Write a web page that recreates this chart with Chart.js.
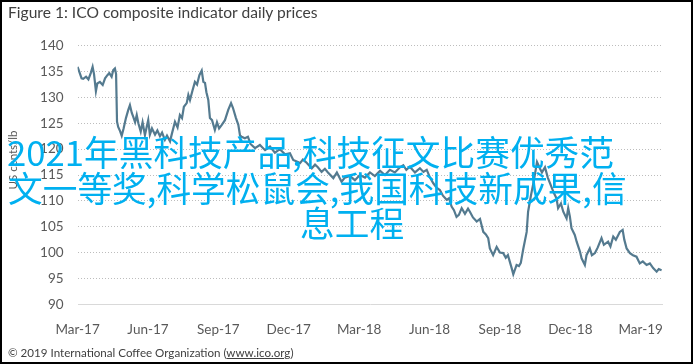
<!DOCTYPE html>
<html>
<head>
<meta charset="utf-8">
<script src="https://cdn.jsdelivr.net/npm/chart.js@4.4.0/dist/chart.umd.min.js"></script>
<style>
html, body { margin: 0; padding: 0; background: #fff; }
#wrap { position: relative; width: 695px; height: 364px; overflow: hidden; }
#chart { position: absolute; left: 0; top: 0; }
#frame { position: absolute; left: 0; top: 0; width: 693px; height: 364px; border: 2px solid #000; box-sizing: border-box; pointer-events: none; }
.title { position: absolute; left: 8px; top: 3px; font-family: Lato, "Open Sans", sans-serif; font-size: 15.6px; color: #404040; white-space: nowrap; }
.footer { position: absolute; left: 8px; top: 346px; font-family: Lato, "Open Sans", sans-serif; font-size: 11.6px; color: #404040; white-space: nowrap; }
.footer u { text-decoration: underline; }
.ytitle { position: absolute; left: 12px; top: 160px; transform: translate(-50%, -50%) rotate(-90deg); font-family: Lato, sans-serif; font-size: 11.5px; color: #595959; white-space: nowrap; }
.overlay { position: absolute; font-family: "Noto Sans CJK SC", sans-serif; font-size: 34.7px; line-height: 36px; color: #00b0f0; white-space: nowrap; }
</style>
</head>
<body>
<div id="wrap">
  <canvas id="chart" width="695" height="364"></canvas>
  <div class="title">Figure 1: ICO composite indicator daily prices</div>
  <div class="ytitle">US cents/lb</div>
  <div class="footer">© 2019 International Coffee Organization (<u>www.ico.org</u>)</div>
  <div class="overlay" style="left:7px; top:133px;">2021年黑科技产品,科技征文比赛优秀范</div>
  <div class="overlay" style="left:8px; top:169px;">文一等奖,科学松鼠会,我国科技新成果,信</div>
  <div class="overlay" style="left:300px; top:204px;">息工程</div>
  <div id="frame"></div>
</div>
<script>
// 数据：月份偏移（自 2017 年 3 月起）和价格（美分/磅）
const tickLabels = ['Mar-17', 'Jun-17', 'Sep-17', 'Dec-17', 'Mar-18', 'Jun-18', 'Sep-18', 'Dec-18', 'Mar-19'];

const monthOffsets = [
    0.00, 0.07, 0.17, 0.24, 0.36, 0.46, 0.56, 0.64, 0.70, 0.78,
    0.84, 0.95, 1.07, 1.17, 1.27, 1.35, 1.45, 1.52, 1.59, 1.64,
    1.68, 1.73, 1.81, 1.88, 1.96, 2.06, 2.16, 2.23, 2.31, 2.37,
    2.45, 2.52, 2.59, 2.69, 2.77, 2.87, 2.96, 3.01, 3.08, 3.17,
    3.30, 3.40, 3.51, 3.60, 3.72, 3.81, 3.94, 4.02, 4.15, 4.26,
    4.36, 4.45, 4.53, 4.65, 4.72, 4.79, 4.90, 5.00, 5.09, 5.19,
    5.29, 5.36, 5.43, 5.49, 5.57, 5.64, 5.73, 5.85, 5.94, 6.03,
    6.13, 6.28, 6.42, 6.54, 6.62, 6.75, 6.85, 6.92, 6.99, 7.13,
    7.26, 7.37, 7.56, 7.77, 7.99, 8.20, 8.41, 8.62, 8.84, 9.05,
    9.19, 9.34, 9.48, 9.60, 9.73, 9.98, 10.12, 10.24, 10.40, 10.54,
    10.67, 10.90, 11.05, 11.25, 11.39, 11.61, 11.82, 12.03, 12.25, 12.46,
    12.67, 12.89, 13.10, 13.31, 13.52, 13.74, 13.88, 14.01, 14.16, 14.38,
    14.59, 14.74, 14.88, 15.02, 15.16, 15.31, 15.44, 15.57, 15.73, 15.83,
    15.94, 16.04, 16.15, 16.25, 16.37, 16.51, 16.64, 16.72, 16.85, 17.01,
    17.15, 17.29, 17.40, 17.50, 17.57, 17.71, 17.86, 18.00, 18.14, 18.25,
    18.34, 18.50, 18.57, 18.71, 18.81, 18.89, 18.99, 19.14, 19.20, 19.32,
    19.45, 19.58, 19.71, 19.79, 19.92, 20.04, 20.17, 20.30, 20.41, 20.48,
    20.60, 20.70, 20.84, 20.91, 20.98, 21.05, 21.19, 21.27, 21.41, 21.48,
    21.62, 21.69, 21.83, 21.92, 22.05, 22.17, 22.33, 22.43, 22.61, 22.71,
    22.83, 22.94, 23.11, 23.23, 23.30, 23.40, 23.54, 23.67, 23.82, 23.96,
    24.09, 24.25, 24.39, 24.53, 24.68, 24.77, 24.89
];

const prices = [
    135.9, 135.0, 133.7, 133.6, 134.0, 133.5, 134.7, 135.9, 134.5, 131.2,
    132.7, 133.0, 132.4, 133.7, 134.3, 134.7, 134.0, 135.3, 135.6, 134.5,
    125.3, 124.3, 123.5, 122.6, 124.0, 126.0, 127.6, 128.5, 127.0, 126.3,
    125.2, 126.6, 125.0, 123.4, 125.2, 122.7, 124.6, 125.6, 122.8, 124.0,
    122.8, 123.6, 122.5, 123.2, 121.8, 122.6, 121.5, 123.0, 125.3, 124.2,
    126.6, 126.0, 128.2, 128.9, 130.5, 129.5, 131.4, 133.0, 132.5, 134.3,
    135.2, 133.0, 132.8, 131.0, 129.5, 126.0, 125.6, 123.7, 125.2, 124.0,
    124.6, 125.6, 127.6, 128.9, 128.0, 126.0, 124.7, 122.7, 122.4, 122.1,
    122.4, 121.0, 120.2, 120.8, 119.8, 120.5, 119.3, 120.0, 119.0, 119.2,
    117.9, 117.6, 117.3, 118.0, 117.5, 116.3, 117.0, 116.5, 115.6, 116.2,
    115.5, 114.4, 115.5, 113.7, 114.5, 114.8, 114.0, 115.0, 114.5, 115.5,
    114.8, 115.8, 115.0, 116.0, 115.5, 116.5, 116.9, 116.0, 116.6, 115.5,
    116.3, 115.6, 116.0, 114.5, 113.4, 112.5, 112.1, 111.0, 110.2, 110.5,
    108.9, 108.2, 106.9, 107.3, 108.6, 107.5, 108.5, 107.9, 106.8, 106.0,
    106.5, 104.0, 103.5, 102.8, 100.8, 99.5, 101.1, 100.0, 99.9, 99.0,
    99.5, 97.0, 95.8, 97.6, 97.4, 98.0, 100.6, 104.0, 107.9, 111.0,
    114.0, 117.5, 116.2, 115.5, 116.5, 114.5, 113.0, 111.5, 110.5, 108.6,
    109.5, 107.9, 106.6, 108.6, 107.0, 104.7, 103.4, 102.1, 100.2, 98.9,
    97.6, 99.5, 100.8, 99.5, 99.9, 101.0, 102.8, 101.5, 102.1, 101.2,
    103.1, 102.5, 104.0, 104.4, 102.5, 100.8, 99.9, 99.5, 99.2, 97.9,
    98.3, 97.6, 97.9, 97.0, 96.3, 96.8, 96.6
];

const points = monthOffsets.map((m, i) => ({ x: m, y: prices[i] }));

const axisFont = { family: 'Lato', size: 13.5 };

new Chart(document.getElementById('chart'), {
    type: 'line',
    data: {
        datasets: [{
            data: points,
            borderColor: '#547a8f',
            borderWidth: 2.2,
            pointRadius: 0,
            tension: 0,
            fill: false
        }]
    },
    options: {
        responsive: false,
        animation: false,
        events: [],
        layout: { padding: { top: 45.7, right: 32, left: 0, bottom: 0 } },
        plugins: {
            legend: { display: false },
            tooltip: { enabled: false }
        },
        scales: {
            x: {
                type: 'linear',
                min: 0,
                max: 24.95,
                // 每季度一个刻度
                afterBuildTicks: s => {
                    s.ticks = tickLabels.map((_, i) => ({ value: i * 3 }));
                },
                ticks: {
                    autoSkip: false,
                    maxRotation: 0,
                    padding: 9,
                    color: '#595959',
                    font: axisFont,
                    callback: v => tickLabels[Math.round(v / 3)] || ''
                },
                grid: { display: false },
                border: { display: false },
                afterFit: s => { s.height = 59.7; }
            },
            y: {
                min: 90,
                max: 140,
                ticks: {
                    stepSize: 5,
                    padding: 14,
                    color: '#595959',
                    font: axisFont
                },
                grid: {
                    drawTicks: false,
                    lineWidth: 1,
                    color: ctx => ctx.tick && ctx.tick.value === 90 ? '#d9d9d9' : '#bdbdbd'
                },
                border: {
                    display: false,
                    dash: ctx => ctx.tick && ctx.tick.value === 90 ? [] : [1, 2]
                },
                afterFit: s => { s.width = 77.6; }
            }
        }
    }
});
</script>
</body>
</html>
